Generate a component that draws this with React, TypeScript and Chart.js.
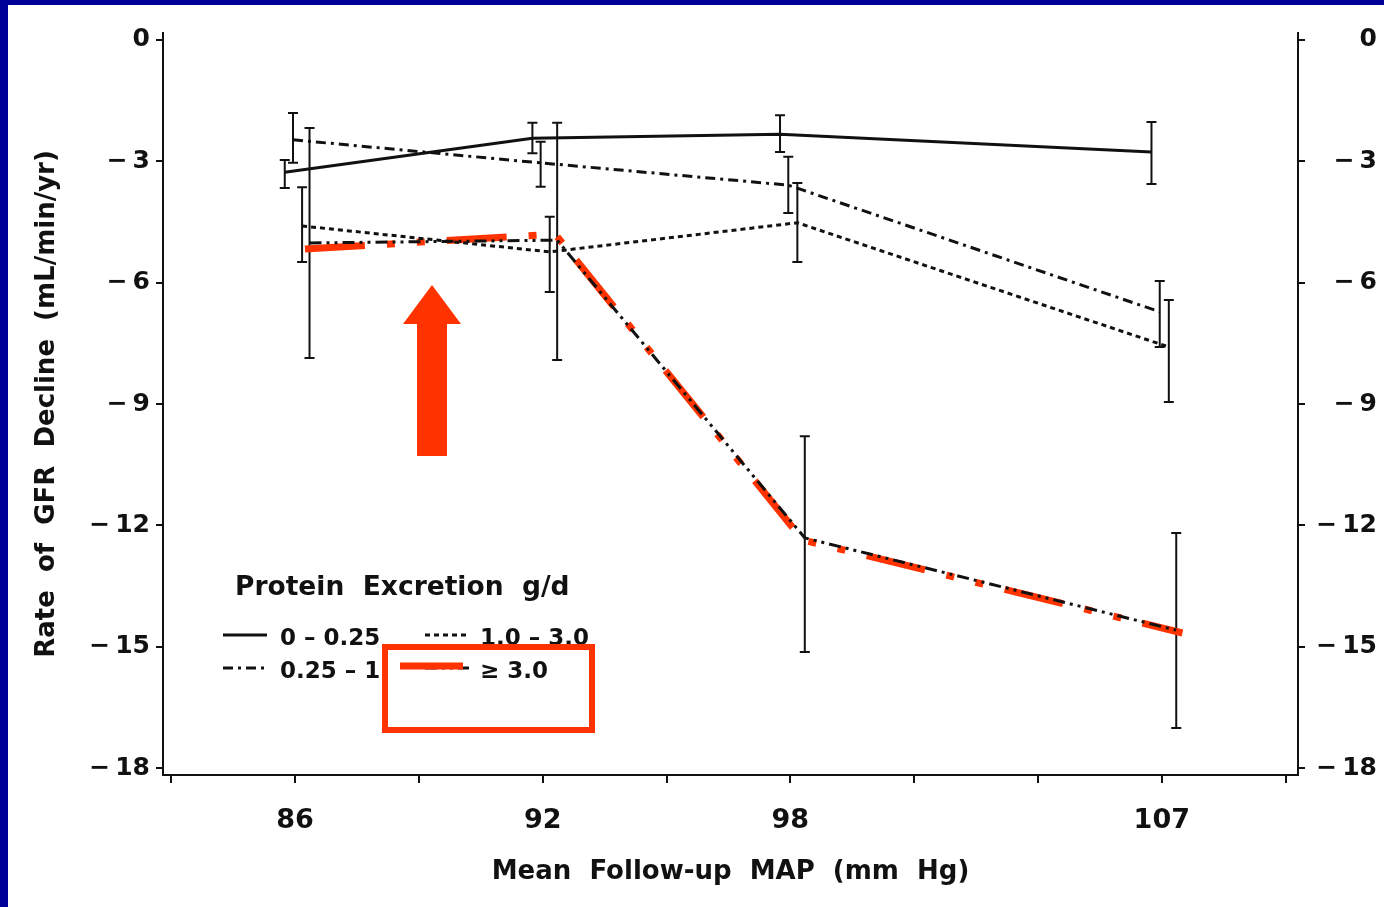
import React, { useEffect, useRef } from "react";
import { Chart, registerables } from "chart.js";

Chart.register(...registerables);

// ---- data -------------------------------------------------------------
const mapCategories = [86, 92, 98, 107];
const xTickValues = [83, 86, 89, 92, 95, 98, 101, 104, 107, 110];
const yTickValues = [0, -3, -6, -9, -12, -15, -18];

const seriesLabels = ["0 \u2013 0.25", "0.25 \u2013 1", "1.0 \u2013 3.0", "\u2265 3.0"];

// small horizontal shift per group so the error bars do not overlap (mm Hg)
const groupShift = [-0.25, -0.05, 0.17, 0.35];

const rateProt0to025 = [-3.27, -2.43, -2.33, -2.77];
const upperProt0to025 = [-2.97, -2.05, -1.86, -2.03];
const lowerProt0to025 = [-3.66, -2.8, -2.77, -3.56];

const rateProt025to1 = [-2.47, -3.04, -3.59, -6.72];
const upperProt025to1 = [-1.81, -2.52, -2.89, -5.96];
const lowerProt025to1 = [-3.04, -3.63, -4.28, -7.59];

const rateProt1to3 = [-4.6, -5.24, -4.52, -7.59];
const upperProt1to3 = [-3.64, -4.37, -3.54, -6.43];
const lowerProt1to3 = [-5.49, -6.23, -5.49, -8.95];

const rateProtOver3 = [-5.02, -4.95, -12.31, -14.59];
const upperProtOver3 = [-2.18, -2.05, -9.8, -12.19];
const lowerProtOver3 = [-7.86, -7.91, -15.13, -17.01];

// hand-drawn red highlight traced over the >= 3.0 g/d group
const highlightX = [86.24, 92.3, 98.3, 107.5];
const highlightY = [-5.17, -4.8, -12.36, -14.66];

// ---- styles -----------------------------------------------------------
const FONT = "'DejaVu Sans', 'Liberation Sans', sans-serif";
const INK = "#111111";
const RED = "#FF3300";
const BLUE = "#000099";

const seriesDash: number[][] = [[], [10, 5, 3, 5], [5, 4], [12, 5, 3, 5, 3, 5]];

const groups = [
  { mean: rateProt0to025, hi: upperProt0to025, lo: lowerProt0to025 },
  { mean: rateProt025to1, hi: upperProt025to1, lo: lowerProt025to1 },
  { mean: rateProt1to3, hi: upperProt1to3, lo: lowerProt1to3 },
  { mean: rateProtOver3, hi: upperProtOver3, lo: lowerProtOver3 },
];

const fmtY = (v: number) => (v === 0 ? "0" : "\u2212\u2009" + Math.abs(v));

// white page with the blue frame of the slide
const framePlugin = {
  id: "frame",
  beforeDraw(chart: any) {
    const { ctx, width, height } = chart;
    ctx.save();
    ctx.fillStyle = "#ffffff";
    ctx.fillRect(0, 0, width, height);
    ctx.fillStyle = BLUE;
    ctx.fillRect(0, 0, 8, height);
    ctx.fillRect(0, 0, width, 5);
    ctx.restore();
  },
};

// vertical error bars with caps
const errorBarPlugin = {
  id: "errorBars",
  beforeDatasetsDraw(chart: any) {
    const { ctx, scales } = chart;
    const xs = scales.x;
    const ys = scales.y;
    ctx.save();
    ctx.strokeStyle = INK;
    ctx.lineWidth = 2;
    ctx.setLineDash([]);
    groups.forEach((g, gi) => {
      g.mean.forEach((_, i) => {
        const px = xs.getPixelForValue(mapCategories[i] + groupShift[gi]);
        const top = ys.getPixelForValue(g.hi[i]);
        const bot = ys.getPixelForValue(g.lo[i]);
        ctx.beginPath();
        ctx.moveTo(px, top);
        ctx.lineTo(px, bot);
        ctx.moveTo(px - 5, top);
        ctx.lineTo(px + 5, top);
        ctx.moveTo(px - 5, bot);
        ctx.lineTo(px + 5, bot);
        ctx.stroke();
      });
    });
    ctx.restore();
  },
};

// legend block, arrow and box drawn inside the plot
const overlayPlugin = {
  id: "overlay",
  afterDatasetsDraw(chart: any) {
    const { ctx, chartArea } = chart;
    const ox = chartArea.left;
    const oy = chartArea.top;
    ctx.save();

    // legend title
    ctx.fillStyle = INK;
    ctx.textBaseline = "middle";
    ctx.textAlign = "left";
    ctx.font = `bold 26.5px ${FONT}`;
    ctx.fillText("Protein  Excretion  g/d", ox + 72, oy + 555);

    // legend entries: [sample x, text x, row y]
    const slots = [
      [60, 117, 604],
      [60, 117, 637],
      [262, 317, 604],
      [262, 317, 637],
    ];
    ctx.font = `bold 23px ${FONT}`;
    slots.forEach((s, i) => {
      ctx.strokeStyle = INK;
      ctx.lineWidth = 3;
      ctx.setLineDash(seriesDash[i]);
      ctx.beginPath();
      ctx.moveTo(ox + s[0], oy + s[2] - 2);
      ctx.lineTo(ox + s[0] + 44, oy + s[2] - 2);
      ctx.stroke();
      ctx.setLineDash([]);
      ctx.fillStyle = INK;
      ctx.fillText(seriesLabels[i], ox + s[1], oy + s[2] + 2);
    });

    // red stroke over the >= 3.0 legend sample
    ctx.strokeStyle = RED;
    ctx.lineWidth = 7;
    ctx.lineCap = "butt";
    ctx.beginPath();
    ctx.moveTo(ox + 237, oy + 633);
    ctx.lineTo(ox + 300, oy + 633);
    ctx.stroke();

    // red box round that legend entry
    ctx.lineWidth = 6;
    ctx.strokeRect(ox + 222, oy + 614, 207, 83);

    // red upward arrow
    const ax = ox + 269;
    ctx.fillStyle = RED;
    ctx.beginPath();
    ctx.moveTo(ax, oy + 252);
    ctx.lineTo(ax + 29, oy + 291);
    ctx.lineTo(ax + 15, oy + 291);
    ctx.lineTo(ax + 15, oy + 423);
    ctx.lineTo(ax - 15, oy + 423);
    ctx.lineTo(ax - 15, oy + 291);
    ctx.lineTo(ax - 29, oy + 291);
    ctx.closePath();
    ctx.fill();

    ctx.restore();
  },
};

const axisGrid = (len: number) => ({
  display: true,
  drawOnChartArea: false,
  drawTicks: true,
  tickLength: len,
  color: INK,
  lineWidth: 2,
});
const axisBorder = { display: true, color: INK, width: 2 };

export default function App() {
  const canvasRef = useRef<HTMLCanvasElement | null>(null);

  useEffect(() => {
    const canvas = canvasRef.current;
    if (!canvas) return;

    const datasets: any[] = groups.map((g, gi) => ({
      label: seriesLabels[gi],
      data: g.mean.map((v, i) => ({ x: mapCategories[i] + groupShift[gi], y: v })),
      borderColor: INK,
      borderWidth: 3,
      borderDash: seriesDash[gi],
      pointRadius: 0,
      fill: false,
      tension: 0,
    }));
    datasets.push({
      label: "highlight",
      data: highlightX.map((x, i) => ({ x, y: highlightY[i] })),
      borderColor: RED,
      borderWidth: 7,
      borderDash: [60, 22, 8, 22, 8, 22],
      borderCapStyle: "butt",
      pointRadius: 0,
      fill: false,
      tension: 0,
    });

    const yTicksSetup = (s: any) => {
      s.ticks = yTickValues.map((v) => ({ value: v }));
    };

    const chart = new Chart(canvas, {
      type: "line",
      data: { datasets },
      plugins: [framePlugin, errorBarPlugin, overlayPlugin],
      options: {
        animation: false,
        responsive: false,
        maintainAspectRatio: false,
        devicePixelRatio: 1,
        layout: { padding: { top: 33, right: 7, left: 0, bottom: 0 } },
        plugins: {
          legend: { display: false },
          tooltip: { enabled: false },
        },
        scales: {
          x: {
            type: "linear",
            min: 82.8,
            max: 110.3,
            afterBuildTicks: (s: any) => {
              s.ticks = xTickValues.map((v) => ({ value: v }));
            },
            afterFit: (s: any) => {
              s.height = 132;
            },
            grid: axisGrid(8),
            border: axisBorder,
            ticks: {
              autoSkip: false,
              maxRotation: 0,
              minRotation: 0,
              padding: 22,
              color: INK,
              font: { family: FONT, size: 27, weight: "bold" },
              callback: (v: any) => (mapCategories.includes(Number(v)) ? String(v) : ""),
            },
            title: {
              display: true,
              text: "Mean  Follow-up  MAP  (mm  Hg)",
              color: INK,
              font: { family: FONT, size: 26, weight: "bold" },
              padding: { top: 19, bottom: 19 },
            },
          },
          y: {
            type: "linear",
            position: "left",
            min: -18.17,
            max: 0.17,
            afterBuildTicks: yTicksSetup,
            afterFit: (s: any) => {
              s.width = 163;
            },
            grid: axisGrid(7),
            border: axisBorder,
            ticks: {
              padding: 6,
              color: INK,
              font: { family: FONT, size: 25, weight: "bold" },
              callback: (v: any) => fmtY(Number(v)),
            },
            title: {
              display: true,
              text: "Rate  of  GFR  Decline  (mL/min/yr)",
              color: INK,
              font: { family: FONT, size: 26, weight: "bold" },
              padding: { top: 32, bottom: 0 },
            },
          },
          y2: {
            type: "linear",
            position: "right",
            display: true,
            min: -18.17,
            max: 0.17,
            afterBuildTicks: yTicksSetup,
            afterFit: (s: any) => {
              s.width = 79;
            },
            grid: axisGrid(7),
            border: axisBorder,
            ticks: {
              padding: 12,
              crossAlign: "far",
              color: INK,
              font: { family: FONT, size: 25, weight: "bold" },
              callback: (v: any) => fmtY(Number(v)),
            },
          },
        },
      } as any,
    });

    return () => chart.destroy();
  }, []);

  return (
    <div style={{ position: "absolute", left: 0, top: 0, width: 1384, height: 907 }}>
      <canvas ref={canvasRef} width={1384} height={907} style={{ display: "block" }} />
    </div>
  );
}
